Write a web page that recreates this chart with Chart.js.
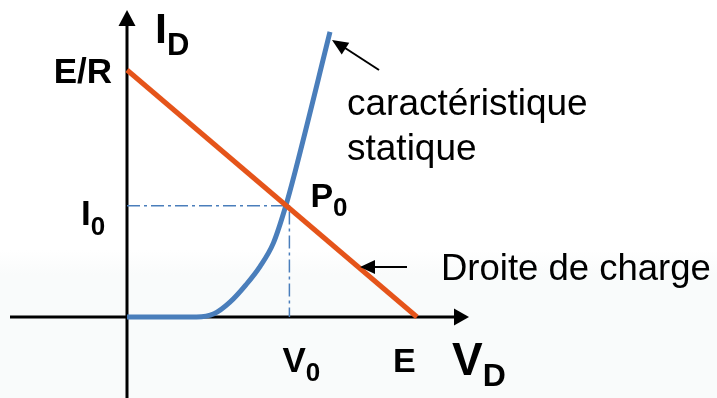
<!DOCTYPE html>
<html>
<head>
<meta charset="utf-8">
<script src="https://cdn.jsdelivr.net/npm/chart.js@4/dist/chart.umd.min.js"></script>
<style>
  html, body { margin: 0; padding: 0; background: #fff; }
  #wrap { width: 717px; height: 398px; }
</style>
</head>
<body>
<div id="wrap"><canvas id="diodeChart" width="717" height="398"></canvas></div>
<script>
// load line end points (V axis: E = 10, I axis: E/R = 10)
const E = 10;
const ER = 10;
const loadV = [0, E];
const loadI = [ER, 0];

// diode static characteristic
const diodeV = [0, 2.4, 3.0, 3.55, 4.1, 4.59, 5.05, 5.45, 5.8, 7.0];
const diodeI = [0, 0, 0.13, 0.6, 1.3, 2.05, 3.0, 4.4, 5.9, 11.54];

// operating point P0
const V0 = 5.6;
const I0 = 4.5;

// tick labels [main, subscript]
const xTickValues = [V0, E];
const xTickLabels = [['V', '0'], ['E', '']];
const yTickValues = [I0, ER];
const yTickLabels = [['I', '0'], ['E/R', '']];

const FONT = '"Liberation Sans", Arial, sans-serif';
const BLUE = '#4a7ebb';
const ORANGE = '#e5541a';

function pts(xs, ys) {
    return xs.map((x, i) => ({ x: x, y: ys[i] }));
}

// bold label with subscript
function drawSub(ctx, main, sub, x, y, size, subSize, drop, weight) {
    weight = weight || 'bold';
    ctx.font = weight + ' ' + size + 'px ' + FONT;
    ctx.textAlign = 'left';
    ctx.textBaseline = 'alphabetic';
    ctx.fillText(main, x, y);
    if (sub) {
        const w = ctx.measureText(main).width;
        ctx.font = weight + ' ' + subSize + 'px ' + FONT;
        ctx.fillText(sub, x + w, y + drop);
    }
}

function arrowHead(ctx, x1, y1, x2, y2, len, half) {
    const a = Math.atan2(y2 - y1, x2 - x1);
    ctx.beginPath();
    ctx.moveTo(x2, y2);
    ctx.lineTo(x2 - len * Math.cos(a) + half * Math.sin(a), y2 - len * Math.sin(a) - half * Math.cos(a));
    ctx.lineTo(x2 - len * Math.cos(a) - half * Math.sin(a), y2 - len * Math.sin(a) + half * Math.cos(a));
    ctx.closePath();
    ctx.fill();
}

const axesPlugin = {
    id: 'axesPlugin',
    beforeDraw(chart) {
        const ctx = chart.ctx;
        ctx.save();
        ctx.fillStyle = '#ffffff';
        ctx.fillRect(0, 0, chart.width, chart.height);
        const g = ctx.createLinearGradient(0, 250, 0, 275);
        g.addColorStop(0, 'rgba(249,251,251,0)');
        g.addColorStop(1, 'rgba(249,251,251,1)');
        ctx.fillStyle = g;
        ctx.fillRect(0, 250, chart.width, chart.height - 250);
        ctx.restore();
    },
    beforeDatasetsDraw(chart) {
        const ctx = chart.ctx;
        const xs = chart.scales.x, ys = chart.scales.y;
        const ox = xs.getPixelForValue(0), oy = ys.getPixelForValue(0);
        ctx.save();
        ctx.strokeStyle = '#000';
        ctx.fillStyle = '#000';
        ctx.lineWidth = 3;
        // horizontal axis
        ctx.beginPath();
        ctx.moveTo(10, oy);
        ctx.lineTo(456, oy);
        ctx.stroke();
        arrowHead(ctx, 400, oy, 469, oy, 15, 8.5);
        // vertical axis
        ctx.beginPath();
        ctx.moveTo(ox, chart.height);
        ctx.lineTo(ox, 24);
        ctx.stroke();
        arrowHead(ctx, ox, 100, ox, 10, 16, 8.5);
        ctx.restore();
    },
    afterDatasetsDraw(chart) {
        const ctx = chart.ctx;
        const xs = chart.scales.x, ys = chart.scales.y;
        const ox = xs.getPixelForValue(0), oy = ys.getPixelForValue(0);
        ctx.save();
        ctx.fillStyle = '#000';

        // y tick labels
        const pI0 = ys.getPixelForValue(yTickValues[0]);
        drawSub(ctx, yTickLabels[0][0], yTickLabels[0][1], ox - 46, pI0 + 19, 35, 26, 10);
        const pER = ys.getPixelForValue(yTickValues[1]);
        ctx.font = 'bold 35px ' + FONT;
        ctx.textAlign = 'right';
        ctx.fillText(yTickLabels[1][0], ox - 15, pER + 13);

        // x tick labels
        const pV0 = xs.getPixelForValue(xTickValues[0]);
        drawSub(ctx, xTickLabels[0][0], xTickLabels[0][1], pV0 - 7, oy + 55, 35, 26, 9);
        const pE = xs.getPixelForValue(xTickValues[1]);
        drawSub(ctx, xTickLabels[1][0], '', pE - 24, oy + 55, 34, 26, 9);

        // axis titles
        drawSub(ctx, 'I', 'D', ox + 28, 43, 43, 31, 12);
        drawSub(ctx, 'V', 'D', 452, oy + 58, 46, 32, 11);

        // operating point
        drawSub(ctx, 'P', '0', xs.getPixelForValue(V0) + 21, ys.getPixelForValue(I0) + 1, 34, 26, 9);

        // annotations
        ctx.font = '37px ' + FONT;
        ctx.textAlign = 'left';
        ctx.fillText('caractéristique', 347, 115);
        ctx.fillText('statique', 347, 160);
        ctx.font = '36.5px ' + FONT;
        ctx.fillText('Droite de charge', 441, 280);

        ctx.strokeStyle = '#000';
        ctx.lineWidth = 2;
        ctx.beginPath();
        ctx.moveTo(379, 70);
        ctx.lineTo(342, 46);
        ctx.stroke();
        arrowHead(ctx, 379, 70, 332, 40, 16, 7);
        ctx.beginPath();
        ctx.moveTo(407, 267);
        ctx.lineTo(370, 267);
        ctx.stroke();
        arrowHead(ctx, 407, 267, 360, 267, 15, 7);
        ctx.restore();
    }
};

const ctx = document.getElementById('diodeChart').getContext('2d');
new Chart(ctx, {
    type: 'scatter',
    data: {
        datasets: [
            {
                label: 'Droite de charge',
                data: pts(loadV, loadI),
                showLine: true,
                borderColor: ORANGE,
                borderWidth: 5,
                pointRadius: 0,
                borderCapStyle: 'butt',
                order: 1
            },
            {
                label: 'caractéristique statique',
                data: pts(diodeV, diodeI),
                showLine: true,
                borderColor: BLUE,
                borderWidth: 5,
                pointRadius: 0,
                cubicInterpolationMode: 'monotone',
                borderCapStyle: 'butt',
                borderJoinStyle: 'round',
                order: 2
            },
            {
                label: 'P0',
                data: pts([0, V0, V0], [I0, I0, 0]),
                showLine: true,
                borderColor: BLUE,
                borderWidth: 1.5,
                borderDash: [13, 4, 3, 4],
                pointRadius: 0,
                order: 3
            }
        ]
    },
    options: {
        responsive: false,
        animation: false,
        devicePixelRatio: 1,
        layout: { padding: 0 },
        plugins: {
            legend: { display: false },
            tooltip: { enabled: false }
        },
        scales: {
            x: { type: 'linear', min: -127 / 29, max: (717 - 127) / 29, display: false },
            y: { type: 'linear', min: -(398 - 317) / 24.7, max: 317 / 24.7, display: false }
        }
    },
    plugins: [axesPlugin]
});
</script>
</body>
</html>
